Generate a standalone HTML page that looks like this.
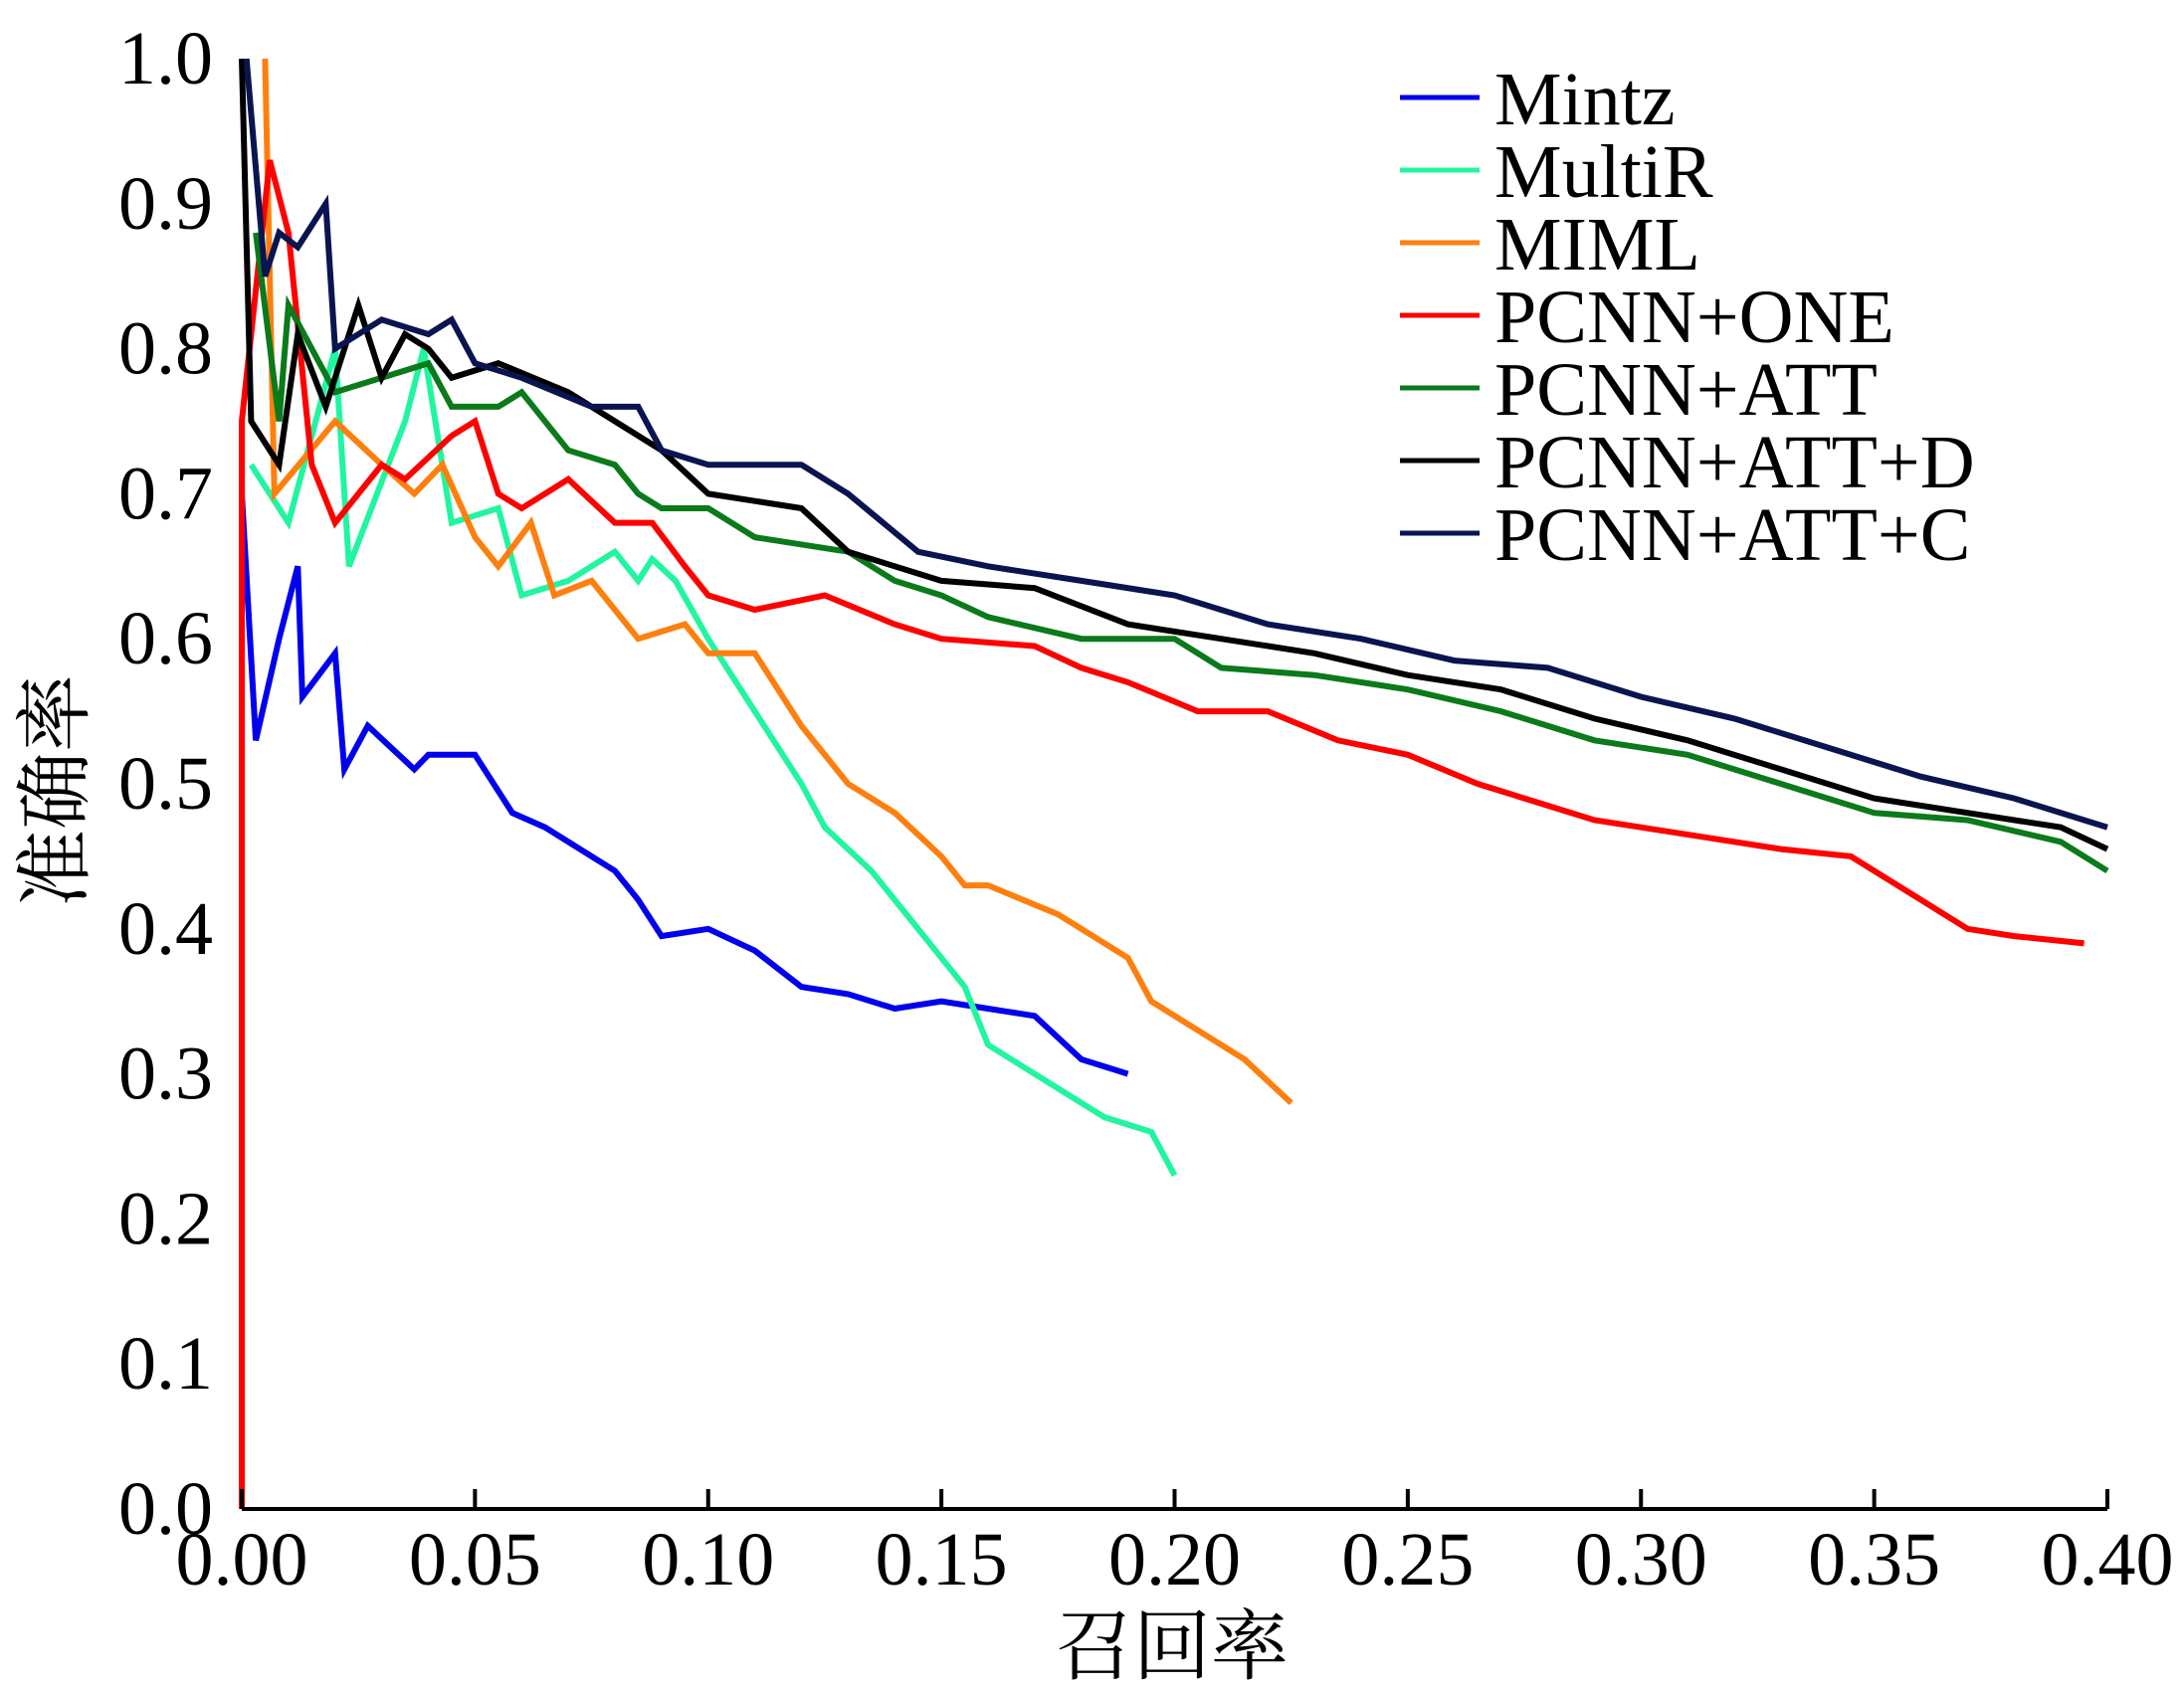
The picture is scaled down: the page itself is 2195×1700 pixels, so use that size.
<!DOCTYPE html>
<html><head><meta charset="utf-8"><style>
html,body{margin:0;padding:0;background:#fff;}
svg{display:block;}
text{font-family:"Liberation Serif","Noto Serif CJK SC",serif;fill:#000;}
</style></head><body>
<svg id="chart" width="2195" height="1700" viewBox="0 0 2195 1700" xmlns="http://www.w3.org/2000/svg">
<g id="plot"></g>
<g id="axes"></g>
<g id="legend"></g>
</svg>
<script>
const xTicks = [0, 0.05, 0.10, 0.15, 0.20, 0.25, 0.30, 0.35, 0.40];
const xTickLabels = ["0.00","0.05","0.10","0.15","0.20","0.25","0.30","0.35","0.40"];
const yTicks = [0,0.1,0.2,0.3,0.4,0.5,0.6,0.7,0.8,0.9,1.0];
const yTickLabels = ["0.0","0.1","0.2","0.3","0.4","0.5","0.6","0.7","0.8","0.9","1.0"];
const seriesNames = ["Mintz","MultiR","MIML","PCNN+ONE","PCNN+ATT","PCNN+ATT+D","PCNN+ATT+C"];
const seriesColors = ["#0000ee","#22f5a0","#ff7f0e","#ff0000","#0a7a1a","#000000","#0a1450"];
const mintzX = [0,0.003,0.008,0.012,0.013,0.02,0.022,0.027,0.037,0.04,0.05,0.058,0.065,0.075,0.08,0.085,0.09,0.1,0.11,0.12,0.13,0.14,0.15,0.16,0.17,0.18,0.19];
const mintzY = [0.70,0.53,0.60,0.65,0.56,0.59,0.51,0.54,0.51,0.52,0.52,0.48,0.47,0.45,0.44,0.42,0.395,0.40,0.385,0.36,0.355,0.345,0.35,0.345,0.34,0.31,0.30];
const multirX = [0.002,0.01,0.02,0.023,0.035,0.039,0.045,0.055,0.06,0.07,0.08,0.085,0.088,0.093,0.1,0.11,0.12,0.125,0.135,0.145,0.155,0.16,0.175,0.185,0.195,0.2];
const multirY = [0.72,0.68,0.80,0.65,0.75,0.80,0.68,0.69,0.63,0.64,0.66,0.64,0.655,0.64,0.60,0.55,0.50,0.47,0.44,0.40,0.36,0.32,0.29,0.27,0.26,0.23];
const mimlX = [0.005,0.007,0.02,0.03,0.037,0.043,0.05,0.055,0.062,0.067,0.075,0.08,0.085,0.095,0.1,0.11,0.12,0.13,0.14,0.15,0.155,0.16,0.175,0.19,0.195,0.215,0.225];
const mimlY = [1.0,0.70,0.75,0.72,0.70,0.72,0.67,0.65,0.68,0.63,0.64,0.62,0.60,0.61,0.59,0.59,0.54,0.50,0.48,0.45,0.43,0.43,0.41,0.38,0.35,0.31,0.28];
const oneX = [0,0,0.006,0.01,0.015,0.02,0.03,0.035,0.045,0.05,0.055,0.06,0.07,0.08,0.088,0.095,0.1,0.11,0.125,0.14,0.15,0.17,0.18,0.19,0.205,0.22,0.235,0.25,0.265,0.28,0.29,0.3,0.32,0.33,0.345,0.36,0.37,0.38,0.395];
const oneY = [0,0.75,0.93,0.88,0.72,0.68,0.72,0.71,0.74,0.75,0.70,0.69,0.71,0.68,0.68,0.65,0.63,0.62,0.63,0.61,0.60,0.595,0.58,0.57,0.55,0.55,0.53,0.52,0.50,0.485,0.475,0.47,0.46,0.455,0.45,0.42,0.40,0.395,0.39];
const attX = [0.003,0.008,0.01,0.02,0.03,0.04,0.045,0.055,0.06,0.07,0.08,0.085,0.09,0.1,0.11,0.13,0.14,0.15,0.16,0.18,0.2,0.21,0.23,0.25,0.27,0.29,0.31,0.33,0.35,0.37,0.39,0.4];
const attY = [0.88,0.75,0.83,0.77,0.78,0.79,0.76,0.76,0.77,0.73,0.72,0.70,0.69,0.69,0.67,0.66,0.64,0.63,0.615,0.60,0.60,0.58,0.575,0.565,0.55,0.53,0.52,0.50,0.48,0.475,0.46,0.44];
const attdX = [0,0.002,0.008,0.012,0.018,0.025,0.03,0.035,0.04,0.045,0.055,0.07,0.09,0.1,0.12,0.13,0.15,0.17,0.19,0.21,0.23,0.25,0.27,0.29,0.31,0.33,0.35,0.37,0.39,0.4];
const attdY = [1.0,0.75,0.72,0.81,0.76,0.83,0.78,0.81,0.80,0.78,0.79,0.77,0.73,0.70,0.69,0.66,0.64,0.635,0.61,0.60,0.59,0.575,0.565,0.545,0.53,0.51,0.49,0.48,0.47,0.455];
const attcX = [0.001,0.005,0.008,0.012,0.018,0.02,0.025,0.03,0.04,0.045,0.05,0.06,0.075,0.085,0.09,0.1,0.12,0.13,0.145,0.16,0.18,0.2,0.22,0.24,0.26,0.28,0.3,0.32,0.34,0.36,0.38,0.4];
const attcY = [1.0,0.85,0.88,0.87,0.90,0.80,0.81,0.82,0.81,0.82,0.79,0.78,0.76,0.76,0.73,0.72,0.72,0.70,0.66,0.65,0.64,0.63,0.61,0.60,0.585,0.58,0.56,0.545,0.525,0.505,0.49,0.47];
const seriesX = [mintzX, multirX, mimlX, oneX, attX, attdX, attcX];
const seriesY = [mintzY, multirY, mimlY, oneY, attY, attdY, attcY];

const NS = "http://www.w3.org/2000/svg";
const X0 = 243, X1 = 2118, Y0 = 1517, Y1 = 59;
function sx(v){ return X0 + v/0.4*(X1-X0); }
function sy(v){ return Y0 - v*(Y0-Y1); }
function mk(tag, attrs, parent){ const e=document.createElementNS(NS,tag); for(const k in attrs) e.setAttribute(k,attrs[k]); parent.appendChild(e); return e; }

const plot = document.getElementById('plot');
const axes = document.getElementById('axes');
const legend = document.getElementById('legend');

for (let s=0; s<seriesNames.length; s++){
  const pts = seriesX[s].map((x,i)=>sx(x).toFixed(1)+','+sy(seriesY[s][i]).toFixed(1)).join(' ');
  const pl = mk('polyline',{points:pts,fill:'none',stroke:seriesColors[s],'stroke-width':6,'stroke-linejoin':'miter'},plot);
  
  
}

const xAxis = mk('line',{x1:X0,y1:Y0,x2:X1,y2:Y0,stroke:'#000','stroke-width':4},axes);


xTicks.forEach((t,i)=>{
  const tk = mk('line',{x1:sx(t),y1:Y0,x2:sx(t),y2:Y0-20,stroke:'#000','stroke-width':4},axes);
  
  
  const lb = mk('text',{x:sx(t),y:Y0+76,'text-anchor':'middle','font-size':76},axes);
  lb.textContent = xTickLabels[i];
  
  
});
yTicks.forEach((t,i)=>{
  const lb = mk('text',{x:214,y:sy(t)+25,'text-anchor':'end','font-size':76},axes);
  lb.textContent = yTickLabels[i];
  
  
});
const xt = mk('text',{x:1178,y:1682,'text-anchor':'middle','font-size':78},axes);
xt.textContent = '召回率';


const yt = mk('text',{x:0,y:0,'text-anchor':'middle','font-size':78,transform:'translate(82,795) rotate(-90)'},axes);
yt.textContent = '准确率';



seriesNames.forEach((n,i)=>{
  const y = 98 + i*73;
  const g = mk('g',{},legend);
  
  
  mk('line',{x1:1407,y1:y,x2:1487,y2:y,stroke:seriesColors[i],'stroke-width':5},g);
  const t = mk('text',{x:1502,y:y+27,'font-size':76},g);
  t.textContent = n;
});
</script>
</body></html>
